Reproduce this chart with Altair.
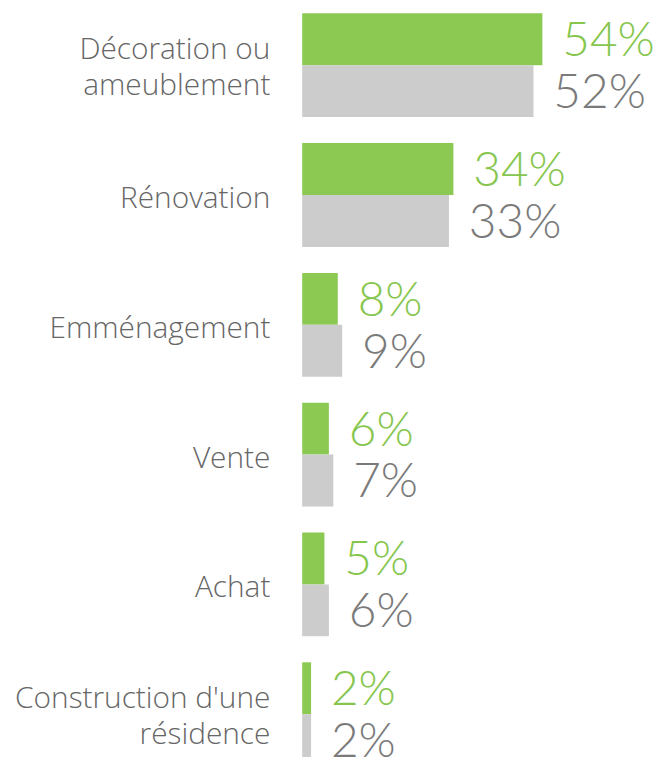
import altair as alt
import pandas as pd

categories = ["Décoration ou\nameublement", "Rénovation", "Emménagement", "Vente", "Achat",
              "Construction d'une\nrésidence"]
series_names = ["Série 1", "Série 2"]
values_green = [54, 34, 8, 6, 5, 2]
values_gray = [52, 33, 9, 7, 6, 2]

rows = []
for c, g, r in zip(categories, values_green, values_gray):
    rows.append({"cat": c, "series": series_names[0], "value": g, "label": f"{g}%"})
    rows.append({"cat": c, "series": series_names[1], "value": r, "label": f"{r}%"})
df = pd.DataFrame(rows)
cat_df = pd.DataFrame({"cat": categories,
                       "multi": ["\n" in c for c in categories]})

y_enc = alt.Y("cat:N", sort=categories, axis=None,
              scale=alt.Scale(paddingInner=0.2, paddingOuter=0, round=False, range=[0, 757.5]))
yoff = alt.YOffset("series:N", sort=series_names,
                   scale=alt.Scale(paddingInner=0, paddingOuter=0))
x_enc = alt.X("value:Q", axis=None, scale=alt.Scale(domain=[0, 80], nice=False, zero=True))
color_bar = alt.Color("series:N", legend=None,
                      scale=alt.Scale(domain=series_names, range=["#8BC953", "#CCCCCC"]))
color_txt = alt.Color("series:N", legend=None,
                      scale=alt.Scale(domain=series_names, range=["#86C64E", "#7A7A7A"]))

base = alt.Chart(df)
bars = base.mark_bar(cornerRadius=0).encode(x=x_enc, y=y_enc, yOffset=yoff, color=color_bar)
vals = base.mark_text(align="left", baseline="middle", dx=20, dy=3, fontSize=48,
                      font="Lato", fontWeight=300).encode(
    x=x_enc, y=y_enc, yOffset=yoff, text="label:N", color=color_txt)

label_style = dict(align="right", baseline="middle", fontSize=30, font="Open Sans",
                   fontWeight=300, color="#666666", lineBreak="\n", lineHeight=36)
labels_single = alt.Chart(cat_df).transform_filter("!datum.multi").mark_text(
    dy=4, **label_style).encode(x=alt.value(-32), y=y_enc, text="cat:N")
labels_multi = alt.Chart(cat_df).transform_filter("datum.multi").mark_text(
    dy=-15, **label_style).encode(x=alt.value(-32), y=y_enc, text="cat:N")

chart = alt.layer(bars, vals, labels_single, labels_multi).resolve_scale(
    color="independent").properties(
    width=358, height=746,
    autosize=alt.AutoSizeParams(type="none"),
    padding={"left": 296, "top": 3, "right": 0, "bottom": 0},
).configure_view(stroke=None)

chart.save("out.html", embed_options={"renderer": "svg", "actions": False})
